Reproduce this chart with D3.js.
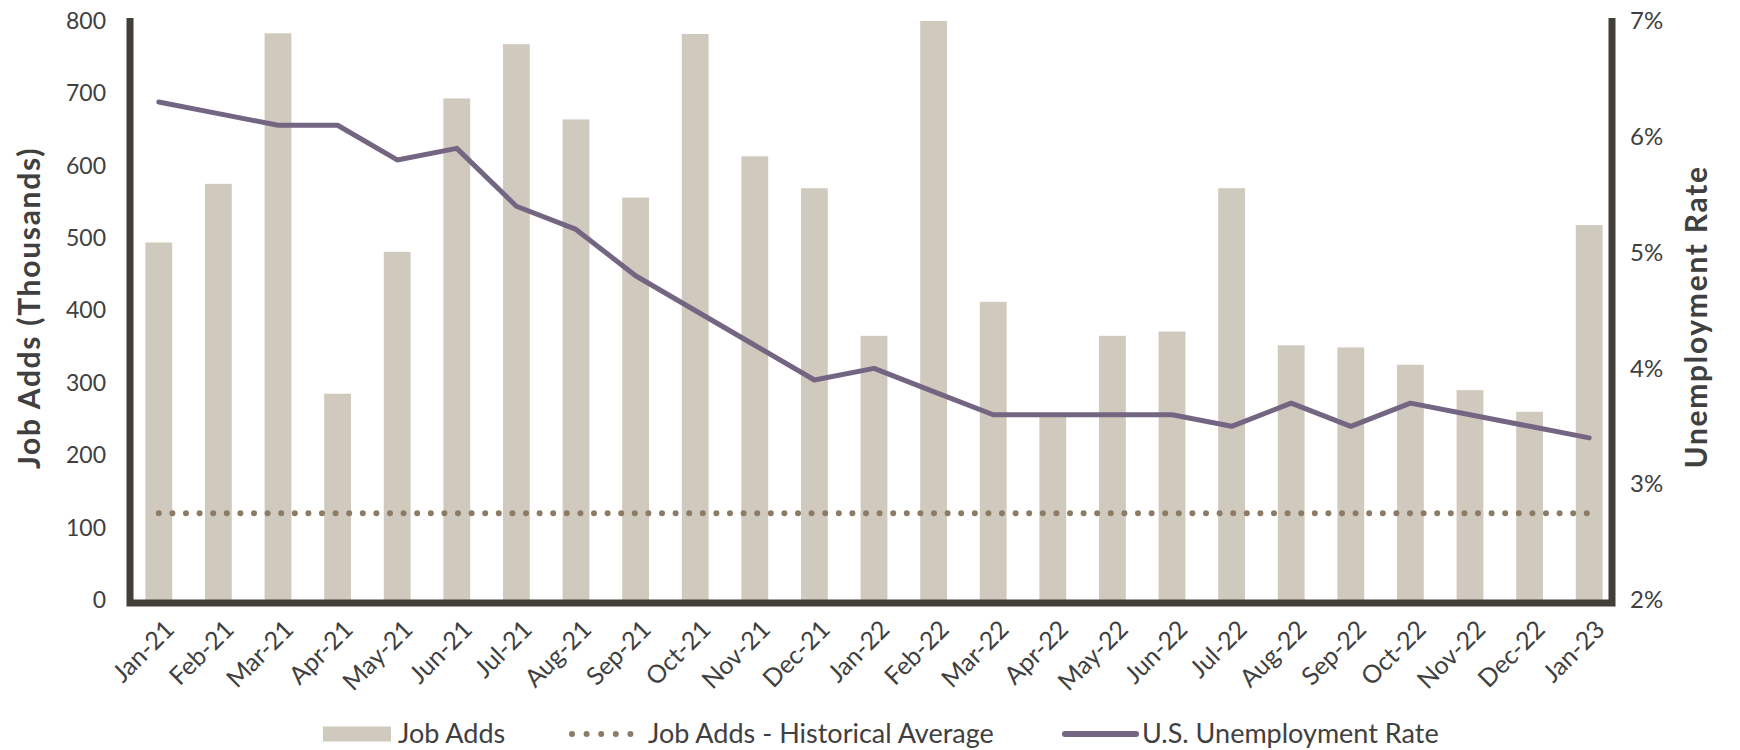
<!DOCTYPE html>
<html>
<head>
<meta charset="utf-8">
<script src="https://cdn.jsdelivr.net/npm/d3@7"></script>
<style>
  body { margin: 0; background: #fff; }
  svg text { fill: #404040; }
</style>
</head>
<body>
<svg id="chart" width="1740" height="750"></svg>
<script>
const months = ['Jan-21','Feb-21','Mar-21','Apr-21','May-21','Jun-21','Jul-21','Aug-21','Sep-21','Oct-21','Nov-21','Dec-21',
  'Jan-22','Feb-22','Mar-22','Apr-22','May-22','Jun-22','Jul-22','Aug-22','Sep-22','Oct-22','Nov-22','Dec-22','Jan-23'];
const jobAdds = [494, 575, 783, 285, 481, 693, 768, 664, 556, 782, 613, 569,
  365, 800, 412, 255, 365, 371, 569, 352, 349, 325, 290, 260, 518];
const unemployment = [6.3, 6.2, 6.1, 6.1, 5.8, 5.9, 5.4, 5.2, 4.8, 4.5, 4.2, 3.9,
  4.0, 3.8, 3.6, 3.6, 3.6, 3.6, 3.5, 3.7, 3.5, 3.7, 3.6, 3.5, 3.4];
const historicalAvg = 120;
const leftTicks = [0, 100, 200, 300, 400, 500, 600, 700, 800];
const rightTicks = [2, 3, 4, 5, 6, 7];

const barColor = '#d0c9bd', lineColor = '#746682', dotColor = '#8c7b65', axisColor = '#423f3a';
const mainFont = 'Lato, "Open Sans", sans-serif';

const svg = d3.select('#chart');
const plotL = 130, plotR = 1612, plotT = 21, plotB = 600;

// bars sit a little right of centre between the two axes
const x = d3.scaleBand().domain(months).range([129, 1619]).paddingInner(0.55).paddingOuter(0.275);
const y = d3.scaleLinear().domain([0, 800]).range([plotB, plotT]);
const y2 = d3.scaleLinear().domain([2, 7]).range([plotB, plotT]);
const cx = m => x(m) + x.bandwidth() / 2;

// bars
svg.append('g').selectAll('rect')
  .data(months)
  .join('rect')
  .attr('x', d => x(d))
  .attr('width', x.bandwidth())
  .attr('y', (d, i) => y(jobAdds[i]))
  .attr('height', (d, i) => plotB - y(jobAdds[i]))
  .attr('fill', barColor);

// historical average
svg.append('line')
  .attr('x1', cx(months[0]))
  .attr('x2', cx(months[months.length - 1]))
  .attr('y1', y(historicalAvg)).attr('y2', y(historicalAvg))
  .attr('stroke', dotColor).attr('stroke-width', 6)
  .attr('stroke-linecap', 'round')
  .attr('stroke-dasharray', '0 13.6');

// unemployment line
const line = d3.line()
  .x((d, i) => cx(months[i]))
  .y(d => y2(d));
svg.append('path')
  .datum(unemployment)
  .attr('fill', 'none')
  .attr('stroke', lineColor)
  .attr('stroke-width', 5)
  .attr('stroke-linejoin', 'round')
  .attr('stroke-linecap', 'round')
  .attr('d', line);

// axes frame
svg.append('path')
  .attr('d', `M${plotL},${plotT - 3} V${plotB + 3} H${plotR} V${plotT - 3}`)
  .attr('fill', 'none').attr('stroke', axisColor).attr('stroke-width', 7);

// left ticks
const yAxis = svg.append('g')
  .attr('transform', `translate(${plotL - 24},0)`)
  .call(d3.axisLeft(y).tickValues(leftTicks).tickSize(0).tickPadding(0));
yAxis.select('.domain').remove();
yAxis.selectAll('text').attr('font-family', mainFont).attr('font-size', 23).attr('fill', '#404040');

// right ticks
const y2Axis = svg.append('g')
  .attr('transform', `translate(${plotR + 18},0)`)
  .call(d3.axisRight(y2).tickValues(rightTicks).tickSize(0).tickPadding(0).tickFormat(d => d + '%'));
y2Axis.select('.domain').remove();
y2Axis.selectAll('text').attr('font-family', mainFont).attr('font-size', 24).attr('fill', '#404040');

// x labels
const xAxis = svg.append('g')
  .attr('transform', `translate(0,${plotB})`)
  .call(d3.axisBottom(x).tickSize(0).tickPadding(0));
xAxis.select('.domain').remove();
xAxis.selectAll('text')
  .attr('font-family', mainFont).attr('font-size', 25).attr('fill', '#404040')
  .attr('text-anchor', 'end')
  .attr('y', 0).attr('dy', 0)
  .attr('transform', 'translate(17,31) rotate(-45)');

// axis titles
svg.append('text')
  .attr('transform', `translate(40,308) rotate(-90)`)
  .attr('text-anchor', 'middle')
  .attr('font-family', mainFont).attr('font-weight', 'bold').attr('font-size', 30)
  .attr('letter-spacing', 1.7)
  .text('Job Adds (Thousands)');
svg.append('text')
  .attr('transform', `translate(1707,317) rotate(-90)`)
  .attr('text-anchor', 'middle')
  .attr('font-family', mainFont).attr('font-weight', 'bold').attr('font-size', 30)
  .attr('letter-spacing', 1.7)
  .text('Unemployment Rate');

// legend
const ly = 734;
const legend = svg.append('g').attr('font-family', mainFont).attr('font-size', 27);
legend.append('rect').attr('x', 323).attr('y', ly - 7.5).attr('width', 68).attr('height', 15).attr('fill', barColor);
legend.append('text').attr('x', 398).attr('y', ly).attr('dy', '0.35em').text('Job Adds');
legend.append('line').attr('x1', 572).attr('x2', 631).attr('y1', ly).attr('y2', ly)
  .attr('stroke', dotColor).attr('stroke-width', 6).attr('stroke-linecap', 'round').attr('stroke-dasharray', '0 14.6');
legend.append('text').attr('x', 648).attr('y', ly).attr('dy', '0.35em').text('Job Adds - Historical Average');
legend.append('line').attr('x1', 1065).attr('x2', 1136).attr('y1', ly).attr('y2', ly)
  .attr('stroke', lineColor).attr('stroke-width', 6).attr('stroke-linecap', 'round');
legend.append('text').attr('x', 1142).attr('y', ly).attr('dy', '0.35em').text('U.S. Unemployment Rate');
</script>
</body>
</html>
